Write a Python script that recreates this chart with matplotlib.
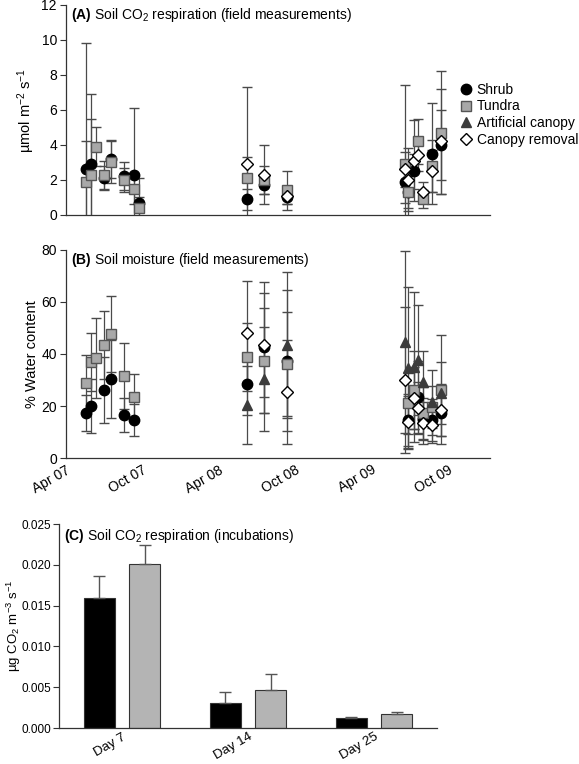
import matplotlib
matplotlib.use('Agg')
import matplotlib.pyplot as plt
import matplotlib.dates as mdates
from matplotlib.lines import Line2D
import numpy as np
import pandas as pd

plt.rcParams['font.family'] = ['Liberation Sans', 'DejaVu Sans']
plt.rcParams['mathtext.fontset'] = 'custom'
plt.rcParams['mathtext.rm'] = 'Liberation Sans'
plt.rcParams['mathtext.bf'] = 'Liberation Sans:bold'
plt.rcParams['mathtext.it'] = 'Liberation Sans:italic'

nan = np.nan

# Data: field sampling dates (panels A and B)
dates = pd.to_datetime(['2007-05-19', '2007-06-01', '2007-06-12', '2007-07-02', '2007-07-18',
                        '2007-08-17', '2007-09-10', '2007-09-24',
                        '2008-06-08', '2008-07-19', '2008-09-11',
                        '2009-06-22', '2009-06-27', '2009-07-12', '2009-07-21', '2009-08-03',
                        '2009-08-25', '2009-09-14'])

# (A) soil CO2 respiration, umol m-2 s-1
shrub_a = [2.6, 2.9, nan, 2.1, 3.2, 2.2, 2.3, 0.7, 0.9, 1.7, 1.0, 1.9, 1.3, 2.5, nan, nan, 3.5, 4.0]
shrub_a_err = [7.2, 4.0, nan, 0.7, 1.1, 0.8, 3.8, 1.4, 0.6, 0.5, 0.4, 1.2, 1.5, 1.0, nan, nan, 2.9, 2.0]
tundra_a = [1.9, 2.3, 3.9, 2.3, 3.0, 2.0, 1.5, 0.4, 2.1, 2.0, 1.4, 2.9, 1.3, nan, 4.2, 0.9, 2.8, 4.7]
tundra_a_err = [2.3, 3.2, 1.1, 0.8, 1.2, 0.7, 0.9, 0.6, 1.2, 0.8, 1.1, 4.5, 0.9, nan, 1.3, 0.5, 1.5, 3.5]
canopy_a = [nan] * 18
canopy_a_err = [nan] * 18
removal_a = [nan] * 8 + [2.9, 2.3, 1.1, 2.6, 2.0, 3.1, 3.4, 1.3, 2.5, 4.2]
removal_a_err = [nan] * 8 + [4.4, 1.7, 0.5, 1.0, 1.8, 2.3, 0.9, 0.6, 1.2, 3.0]

# (B) soil moisture, % water content
shrub_b = [17.3, 20.0, nan, 26.2, 30.4, 16.5, 14.6, nan, 28.5, 42.5, 37.5, nan, 14.5, nan, 23.5, 15.0, 14.6, 17.3]
shrub_b_err = [7.0, 10.4, nan, 12.7, 15.0, 6.5, 6.0, nan, 12, 25, 27, nan, 10, nan, 14, 8, 8, 9]
tundra_b = [28.8, 36.9, 38.5, 43.5, 47.7, 31.5, 23.5, nan, 38.8, 37.5, 36.0, nan, 21.2, 26.2, nan, 17.3, 19.6, 26.2]
tundra_b_err = [10.8, 11.0, 15.3, 13.0, 14.6, 12.7, 8.8, nan, 13, 20, 20, nan, 12, 15, nan, 10, 8, 21]
canopy_b = [nan] * 8 + [20.4, 30.5, 43.5, 44.6, 34.6, 35.0, 37.7, 29.2, 21.5, 25.0]
canopy_b_err = [nan] * 8 + [15, 20, 28, 35, 31, 29, 21, 12, 12.5, 12]
removal_b = [nan] * 8 + [48.1, 43.5, 25.4, 30.0, 13.8, 23.0, 19.2, 13.5, 12.7, 18.5]
removal_b_err = [nan] * 8 + [20, 20, 20, 28, 10, 12, 10, 8, 7, 10]

# (C) incubations
days = ['Day 7', 'Day 14', 'Day 25']
shrub_c = [0.0160, 0.0031, 0.0012]
shrub_c_err = [0.0026, 0.0013, 0.0002]
tundra_c = [0.0201, 0.0047, 0.0017]
tundra_c_err = [0.0024, 0.0019, 0.0003]

# Styles
names = ['Shrub', 'Tundra', 'Artificial canopy', 'Canopy removal']
markers = ['o', 's', '^', 'D']
faces = ['black', '#a8a8a8', '#3c3c3c', 'white']
edges = ['black', '#555555', '#3c3c3c', 'black']
sizes = [7.5, 7, 7.5, 6]
ecol = '#4a4a4a'

fig = plt.figure(figsize=(5.79, 7.64), dpi=100)
ax_a = fig.add_axes([0.114, 0.7186, 0.732, 0.2749])
ax_b = fig.add_axes([0.114, 0.4005, 0.732, 0.2723])
ax_c = fig.add_axes([0.1019, 0.047, 0.6528, 0.267])

for ax in (ax_a, ax_b, ax_c):
    ax.spines['top'].set_visible(False)
    ax.spines['right'].set_visible(False)
    for s in ('left', 'bottom'):
        ax.spines[s].set_color('#333333')
        ax.spines[s].set_linewidth(0.9)
    ax.tick_params(axis='y', direction='out', length=4, width=0.8, colors='#333333',
                   labelsize=10, labelcolor='black', pad=2.5)
    ax.tick_params(axis='x', length=0, labelsize=10)

series_a = [(shrub_a, shrub_a_err), (tundra_a, tundra_a_err),
            (canopy_a, canopy_a_err), (removal_a, removal_a_err)]
series_b = [(shrub_b, shrub_b_err), (tundra_b, tundra_b_err),
            (canopy_b, canopy_b_err), (removal_b, removal_b_err)]

for ax, series in ((ax_a, series_a), (ax_b, series_b)):
    for (vals, errs), m, fc, ec, ms in zip(series, markers, faces, edges, sizes):
        vals = np.array(vals, dtype=float)
        errs = np.array(errs, dtype=float)
        ok = ~np.isnan(vals)
        if ok.any():
            ax.errorbar(dates[ok], vals[ok], yerr=errs[ok], fmt=m, ms=ms,
                        mfc=fc, mec=ec, mew=1.0, ecolor=ecol, elinewidth=0.9,
                        capsize=3.5, capthick=0.9, clip_on=True)
    ax.set_xlim(pd.Timestamp('2007-04-01'), pd.Timestamp('2010-01-10'))
    ax.xaxis.set_major_locator(mdates.MonthLocator(bymonth=[4, 10]))
    ax.xaxis.set_major_formatter(mdates.DateFormatter('%b %y'))

ax_a.set_ylim(0, 12)
ax_a.set_yticks(range(0, 13, 2))
ax_a.set_xticklabels([])
ax_a.set_ylabel('µmol m$^{-2}$ s$^{-1}$', fontsize=10.5)
ax_a.yaxis.set_label_coords(-0.068, 0.5)
ax_a.text(0.012, 0.995, r'$\mathbf{(A)}$ Soil CO$_2$ respiration (field measurements)',
          transform=ax_a.transAxes, va='top', ha='left', fontsize=10)

handles = [Line2D([], [], ls='none', marker=m, ms=ms, mfc=fc, mec=ec, mew=1.0)
           for m, fc, ec, ms in zip(markers, faces, edges, sizes)]
ax_a.legend(handles, names, loc='upper left', bbox_to_anchor=(0.925, 0.63),
            frameon=False, fontsize=10, handletextpad=0.15, labelspacing=0.2,
            handlelength=1.2, borderaxespad=0, borderpad=0)

ax_b.set_ylim(0, 80)
ax_b.set_yticks(range(0, 81, 20))
ax_b.set_ylabel('% Water content', fontsize=10.5)
ax_b.yaxis.set_label_coords(-0.063, 0.5)
ax_b.text(0.012, 0.995, r'$\mathbf{(B)}$ Soil moisture (field measurements)',
          transform=ax_b.transAxes, va='top', ha='left', fontsize=10)
plt.setp(ax_b.get_xticklabels(), rotation=30, ha='right', rotation_mode='anchor')

# Panel C bars
x = np.arange(len(days))
w = 0.246
off = 0.179
ax_c.bar(x - off, shrub_c, w, color='black', edgecolor='#333333', linewidth=0.8,
         yerr=[np.zeros(3), shrub_c_err], error_kw=dict(ecolor='#555555', elinewidth=1, capsize=4, capthick=1))
ax_c.bar(x + off, tundra_c, w, color='#b4b4b4', edgecolor='#333333', linewidth=0.8,
         yerr=[np.zeros(3), tundra_c_err], error_kw=dict(ecolor='#555555', elinewidth=1, capsize=4, capthick=1))
ax_c.set_xlim(-0.5, 2.5)
ax_c.set_ylim(0, 0.025)
ax_c.set_yticks(np.arange(0, 0.0251, 0.005))
ax_c.set_yticklabels([f'{v:.3f}' for v in np.arange(0, 0.0251, 0.005)])
ax_c.tick_params(axis='y', labelsize=8.5, pad=1.5)
ax_c.set_xticks(x)
ax_c.set_xticklabels(days, rotation=30, ha='right', rotation_mode='anchor', fontsize=9.5)
ax_c.tick_params(axis='x', pad=2)
ax_c.set_ylabel('µg CO$_2$ m$^{-3}$ s$^{-1}$', fontsize=9.5)
ax_c.yaxis.set_label_coords(-0.094, 0.5)
ax_c.text(0.012, 0.985, r'$\mathbf{(C)}$ Soil CO$_2$ respiration (incubations)',
          transform=ax_c.transAxes, va='top', ha='left', fontsize=10)

fig.savefig('out.png', dpi=100)
